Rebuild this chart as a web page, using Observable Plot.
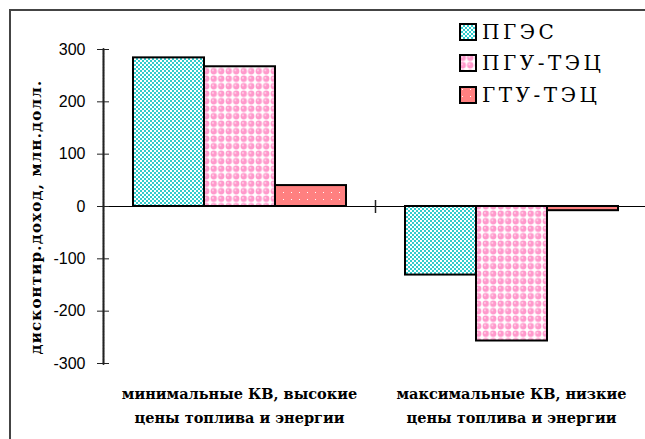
<!DOCTYPE html>
<html><head><meta charset="utf-8">
<script src="https://cdn.jsdelivr.net/npm/d3@7"></script>
<script src="https://cdn.jsdelivr.net/npm/@observablehq/plot@0.6"></script>
<style>
html,body{margin:0;padding:0;overflow:hidden;background:#fff;width:645px;height:439px;}
#wrap{position:relative;width:645px;height:439px;overflow:hidden}
#border{position:absolute;left:9px;top:9px;width:800px;height:600px;border-left:2px solid #444;border-top:2px solid #444;z-index:0}
#ytitle{position:absolute;left:36px;top:217px;transform:translate(-50%,-50%) rotate(-90deg);white-space:nowrap;font:bold 15px "DejaVu Serif";letter-spacing:1.2px;color:#000;z-index:1;pointer-events:none}
#legend{position:absolute;left:459px;top:16px;font:20px "DejaVu Serif";letter-spacing:3.5px;color:#000;z-index:1}
#chart{position:absolute;left:0;top:0;z-index:5}
.item{display:flex;align-items:center;height:31.5px}
.item svg{margin-right:5px}
</style>
</head><body>
<div id="wrap">
  <div id="border"></div>
  <div id="ytitle"></div>
  <div id="legend"></div>
  <div id="chart"></div>
</div>
<script>
const categories = [
  "минимальные КВ, высокие\nцены топлива и энергии",
  "максимальные КВ, низкие\nцены топлива и энергии"
];
const series = ["ПГЭС", "ПГУ-ТЭЦ", "ГТУ-ТЭЦ"];
const pgesValues = [284, -131];
const pguValues = [267, -257];
const gtuValues = [40, -8];
const yTicks = [-300, -200, -100, 0, 100, 200, 300];
const yTitle = "дисконтир.доход, млн.долл.";
const patternUrls = ["url(#p0)", "url(#p1)", "url(#p2)"];

const seriesValues = [pgesValues, pguValues, gtuValues];
const data = categories.flatMap((c, i) =>
  series.map((s, j) => ({category: c, series: s, value: seriesValues[j][i]})));

const patternDefs = `
    <pattern id="p0" width="4" height="4" patternUnits="userSpaceOnUse">
      <rect width="4" height="4" fill="#33cccc"/>
      <rect x="0" y="0" width="2" height="2" fill="#fff"/>
      <rect x="2" y="2" width="2" height="2" fill="#fff"/>
    </pattern>
    <pattern id="p1" width="7.5" height="7.5" patternUnits="userSpaceOnUse">
      <rect width="7.5" height="7.5" fill="#fff"/>
      <circle cx="3.75" cy="3.75" r="3.2" fill="#ff99cc"/>
      <circle cx="2.9" cy="2.9" r="1" fill="#ffd6ea"/>
    </pattern>
    <pattern id="p2" width="8" height="7" patternUnits="userSpaceOnUse">
      <rect width="8" height="7" fill="#ff8080"/>
      <rect x="3" y="3" width="1" height="1" fill="#fff"/>
    </pattern>`;

// short vertical segment symbol (category separator and axis line)
const vline = {draw(ctx, size) { const h = Math.sqrt(size / Math.PI); ctx.moveTo(0, -h); ctx.lineTo(0, h); }};
const yExtent = d3.extent(yTicks);
// y axis line, drawn only in the first category's facet
const axisLine = d3.range(yExtent[0], yExtent[1] + 1, 3).map(v => ({y: v, category: categories[0]}));
// separator tick on the zero line, at the left edge of the second facet
const separator = [{y: 0, category: categories[1]}];

const chart = Plot.plot({
  width: 647, height: 439,
  marginLeft: 103, marginRight: 0, marginTop: 49, marginBottom: 76,
  fx: {domain: categories, padding: 0, label: null},
  x: {domain: series, paddingInner: 0, paddingOuter: 0.39, axis: null},
  y: {domain: yExtent, label: null},
  color: {domain: series, range: patternUrls},
  style: {background: "transparent", color: "#000", maxWidth: "none"},
  marks: [
    Plot.ruleY([0], {stroke: "#000", strokeWidth: 1}),
    Plot.barY(data, {fx: "category", x: "series", y: "value", fill: "series", stroke: "#000", strokeWidth: 2}),
    Plot.frame({anchor: "left", facetAnchor: "left-empty", stroke: "#222", strokeWidth: 1.5}),
    Plot.dot(axisLine, {fx: "category", y: "y", frameAnchor: "left", symbol: vline, r: 1.4, stroke: "#222", strokeWidth: 1.5}),
    Plot.axisY(yTicks, {tickSize: 12, dx: 6, tickPadding: 12, fontSize: 16, fontFamily: "Liberation Sans", stroke: "#222", fill: "#000", tickFormat: d => String(d), label: null}),
    Plot.dot(separator, {fx: "category", y: "y", frameAnchor: "left", symbol: vline, r: 6.5, stroke: "#222", strokeWidth: 1.5}),
    Plot.axisFx({anchor: "bottom", tickSize: 0, tickPadding: 19, fontSize: 14.5, fontWeight: "bold", fontFamily: "DejaVu Serif", lineHeight: 1.65, fill: "#000", label: null})
  ]
});
const defs = document.createElementNS("http://www.w3.org/2000/svg", "defs");
defs.innerHTML = patternDefs;
chart.insertBefore(defs, chart.firstChild);
document.getElementById("chart").appendChild(chart);

document.getElementById("ytitle").textContent = yTitle;
const legend = document.getElementById("legend");
series.forEach((s, j) => {
  const item = document.createElement("div");
  item.className = "item";
  item.innerHTML = `<svg width="18" height="18"><rect x="1" y="1" width="16" height="16" fill="${patternUrls[j]}" stroke="#000" stroke-width="2"/></svg><span>${s}</span>`;
  legend.appendChild(item);
});
</script>
</body></html>
